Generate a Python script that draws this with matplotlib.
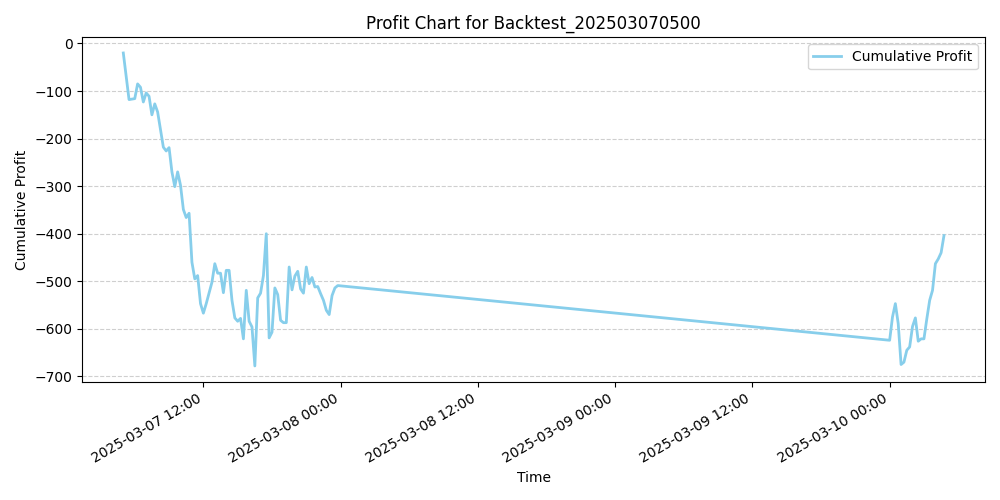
import matplotlib
matplotlib.use("Agg")
import matplotlib.pyplot as plt
import matplotlib.dates as mdates
import pandas as pd

day1_times = ["05:00","05:30","06:00","06:15","06:30","06:45","07:00","07:15","07:30","07:45","08:00",
 "08:30","08:45","09:00","09:15","09:30","09:45","10:00","10:15","10:30","10:45","11:00","11:15","11:30",
 "11:45","12:00","12:15","12:45","13:00","13:15","13:30","13:45","14:00","14:15","14:30","14:45","15:00",
 "15:15","15:30","15:45","16:00","16:15","16:30","16:45","17:00","17:15","17:30","17:45","18:00","18:15",
 "18:30","18:45","19:00","19:15","19:30","19:45","20:00","20:15","20:30","20:45","21:00","21:15","21:30",
 "21:45","22:00","22:15","22:30","22:45","23:00","23:15","23:30","23:45"]
day1_profit = [-20,-118,-116,-85,-92,-123,-104,-111,-150,-127,-144,-218,-226,-219,-270,-301,-270,-298,
 -349,-366,-357,-460,-495,-488,-547,-567,-547,-502,-463,-483,-483,-524,-477,-477,-540,-577,-584,-578,
 -621,-519,-584,-596,-678,-535,-525,-488,-400,-619,-607,-514,-528,-582,-587,-587,-470,-518,-489,-479,
 -516,-525,-470,-505,-492,-512,-511,-526,-540,-561,-570,-530,-514,-509]
day2_times = ["00:00","00:15","00:30","00:45","01:00","01:15","01:30","01:45","02:00","02:15","02:30",
 "02:45","03:00","03:15","03:30","03:45","04:00","04:15","04:30","04:45"]
day2_profit = [-624,-575,-547,-589,-675,-670,-645,-638,-595,-577,-626,-621,-621,-579,-540,-519,-463,
 -453,-440,-404]

times = pd.to_datetime(["2025-03-07 " + t for t in day1_times] + ["2025-03-10 " + t for t in day2_times])
profit = day1_profit + day2_profit

fig, ax = plt.subplots(figsize=(10, 5), dpi=100)
ax.plot(times, profit, color="skyblue", linewidth=2, label="Cumulative Profit")
ax.set_title("Profit Chart for Backtest_202503070500")
ax.set_xlabel("Time")
ax.set_ylabel("Cumulative Profit")
ax.grid(axis="y", linestyle="--", alpha=0.6)
ax.legend(loc="upper right")
ax.xaxis.set_major_formatter(mdates.DateFormatter("%Y-%m-%d %H:%M"))
fig.autofmt_xdate()
fig.tight_layout()
fig.savefig("out.png")
